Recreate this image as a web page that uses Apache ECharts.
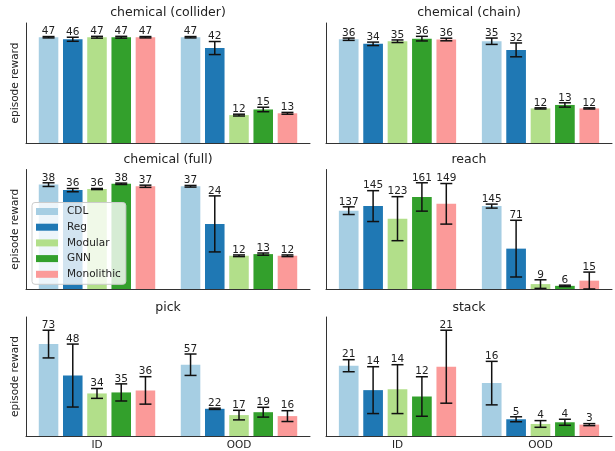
<!DOCTYPE html>
<html><head><meta charset="utf-8">
<script src="https://cdn.jsdelivr.net/npm/echarts@6/dist/echarts.min.js"></script>
<style>html,body{margin:0;padding:0;background:#fff}#c{width:615px;height:451px}</style>
</head><body><div id="c"></div>
<script>
const categories = ['ID', 'OOD'];
const methods = ['CDL', 'Reg', 'Modular', 'GNN', 'Monolithic'];
const panelTitles = ['chemical (collider)', 'chemical (chain)', 'chemical (full)', 'reach', 'pick', 'stack'];

const colliderID = [47, 46.1, 47, 47, 47];
const colliderIDErr = [0.3, 0.9, 0.4, 0.4, 0.3];
const colliderOOD = [47, 42.2, 12.4, 14.9, 13.2];
const colliderOODErr = [0.3, 2.9, 0.4, 1.0, 0.4];

const chainID = [36.0, 34.4, 35.3, 36.2, 35.9];
const chainIDErr = [0.4, 0.6, 0.45, 0.8, 0.45];
const chainOOD = [35.3, 32.3, 12.0, 13.2, 12.0];
const chainOODErr = [1.1, 2.4, 0.2, 0.75, 0.2];

const fullID = [38.0, 36.0, 36.4, 38.3, 37.4];
const fullIDErr = [0.67, 0.6, 0.2, 0.25, 0.4];
const fullOOD = [37.4, 23.7, 12.1, 12.7, 12.1];
const fullOODErr = [0.3, 10.2, 0.3, 0.4, 0.3];

const reachID = [137, 145, 123, 161, 149];
const reachIDErr = [6.7, 27, 38.5, 24.8, 35.5];
const reachOOD = [145, 70.6, 8.6, 5.5, 14.6];
const reachOODErr = [3.5, 49.6, 7.5, 1.2, 15];

const pickID = [73, 48, 33.8, 34.6, 36.2];
const pickIDErr = [11, 25, 3.9, 6.8, 10.9];
const pickOOD = [56.6, 21.6, 16.6, 18.9, 15.8];
const pickOODErr = [8.5, 0.5, 3.8, 3.9, 4.3];

const stackID = [21.0, 13.7, 14.0, 11.8, 20.7];
const stackIDErr = [1.8, 7.0, 7.3, 5.9, 10.9];
const stackOOD = [15.8, 5.0, 3.6, 4.1, 3.4];
const stackOODErr = [6.5, 0.74, 1.0, 0.9, 0.3];

const panels = [
  [colliderID, colliderIDErr, colliderOOD, colliderOODErr],
  [chainID, chainIDErr, chainOOD, chainOODErr],
  [fullID, fullIDErr, fullOOD, fullOODErr],
  [reachID, reachIDErr, reachOOD, reachOODErr],
  [pickID, pickIDErr, pickOOD, pickOODErr],
  [stackID, stackIDErr, stackOOD, stackOODErr]
];

const colors = ['#a6cee3', '#1f78b4', '#b2df8a', '#33a02c', '#fb9a99'];
const FONT = 'DejaVu Sans';
const TXT = '#222';
const AXIS = '#333';
const CAT_GAP = 0.18, BAR_GAP = 0.24, N = methods.length;

const gridRects = [
  {left: 26, top: 23, width: 284, height: 120},
  {left: 326, top: 23, width: 286, height: 120},
  {left: 26, top: 169.5, width: 284, height: 119.5},
  {left: 326, top: 169.5, width: 286, height: 119.5},
  {left: 26, top: 317, width: 284, height: 120},
  {left: 326, top: 317, width: 286, height: 120}
];
const titleTops = [6.5, 6.5, 153.5, 153.5, 301.5, 301.5];

function renderErr(params, api) {
  const g = api.value(0), mean = api.value(1), err = api.value(2), s = api.value(3);
  const c = api.coord([g, mean]);
  const bandW = api.size([1, 0])[0];
  const barW = bandW * (1 - CAT_GAP) / (N + (N - 1) * BAR_GAP);
  const x = c[0] + (s - (N - 1) / 2) * barW * (1 + BAR_GAP);
  const top = api.coord([g, mean + err])[1];
  const bot = api.coord([g, Math.max(0, mean - err)])[1];
  const cap = 6;
  const st = {stroke: '#111', lineWidth: 1.5};
  return {type: 'group', children: [
    {type: 'line', shape: {x1: x, y1: top, x2: x, y2: bot}, style: st},
    {type: 'line', shape: {x1: x - cap, y1: top, x2: x + cap, y2: top}, style: st},
    {type: 'line', shape: {x1: x - cap, y1: bot, x2: x + cap, y2: bot}, style: st},
    {type: 'text', style: {text: String(Math.round(mean)), x: x, y: top + 0.5, align: 'center', verticalAlign: 'bottom',
      fontSize: 10.5, fontFamily: FONT, fill: TXT}}
  ]};
}

const grid = [], xAxis = [], yAxis = [], series = [], title = [];
panels.forEach((p, i) => {
  const [idM, idE, oodM, oodE] = p;
  const leftCol = i % 2 === 0;
  const bottomRow = i >= 4;
  const r = gridRects[i];
  grid.push(r);
  let maxTop = 0;
  for (let s = 0; s < N; s++) {
    maxTop = Math.max(maxTop, idM[s] + idE[s], oodM[s] + oodE[s]);
  }
  title.push({text: panelTitles[i], left: r.left + r.width / 2, top: titleTops[i], textAlign: 'center', padding: 0,
    textStyle: {fontFamily: FONT, fontSize: 12.5, fontWeight: 'normal', color: TXT}});
  xAxis.push({type: 'category', gridIndex: i, data: categories,
    axisLine: {show: true, lineStyle: {color: AXIS, width: 1}},
    axisTick: {show: false},
    axisLabel: {show: bottomRow, fontFamily: FONT, fontSize: 10.5, color: TXT, margin: 4}});
  yAxis.push({type: 'value', gridIndex: i, min: 0, max: maxTop * 1.125,
    name: leftCol ? 'episode reward' : '', nameLocation: 'middle', nameGap: 5,
    nameTextStyle: {fontFamily: FONT, fontSize: 10.5, color: TXT},
    axisLine: {show: true, lineStyle: {color: AXIS, width: 1}},
    axisTick: {show: false}, axisLabel: {show: false}, splitLine: {show: false}});
  for (let s = 0; s < N; s++) {
    series.push({type: 'bar', name: methods[s], xAxisIndex: i, yAxisIndex: i,
      data: [idM[s], oodM[s]], barGap: (BAR_GAP * 100) + '%', barCategoryGap: (CAT_GAP * 100) + '%',
      itemStyle: {color: colors[s]}, silent: true, animation: false});
  }
  const errData = [];
  for (let s = 0; s < N; s++) {
    errData.push([0, idM[s], idE[s], s]);
    errData.push([1, oodM[s], oodE[s], s]);
  }
  series.push({type: 'custom', xAxisIndex: i, yAxisIndex: i, data: errData, encode: {x: 0, y: 1},
    renderItem: renderErr, z: 5, silent: true, animation: false});
});

const chart = echarts.init(document.getElementById('c'), null, {renderer: 'canvas'});
chart.setOption({
  animation: false,
  title: title,
  grid: grid,
  xAxis: xAxis,
  yAxis: yAxis,
  legend: {data: methods, orient: 'vertical', left: 32, top: 202.5, itemWidth: 22, itemHeight: 7, itemGap: 3.7,
    selectedMode: false, icon: 'rect',
    textStyle: {fontFamily: FONT, fontSize: 10.5, color: TXT, lineHeight: 12, padding: [0, 0, 0, 4]},
    padding: [3, 5, 4, 4], backgroundColor: 'rgba(255,255,255,0.8)', borderColor: '#ccc', borderWidth: 1, borderRadius: 3,
    z: 10},
  series: series
});
</script></body></html>
